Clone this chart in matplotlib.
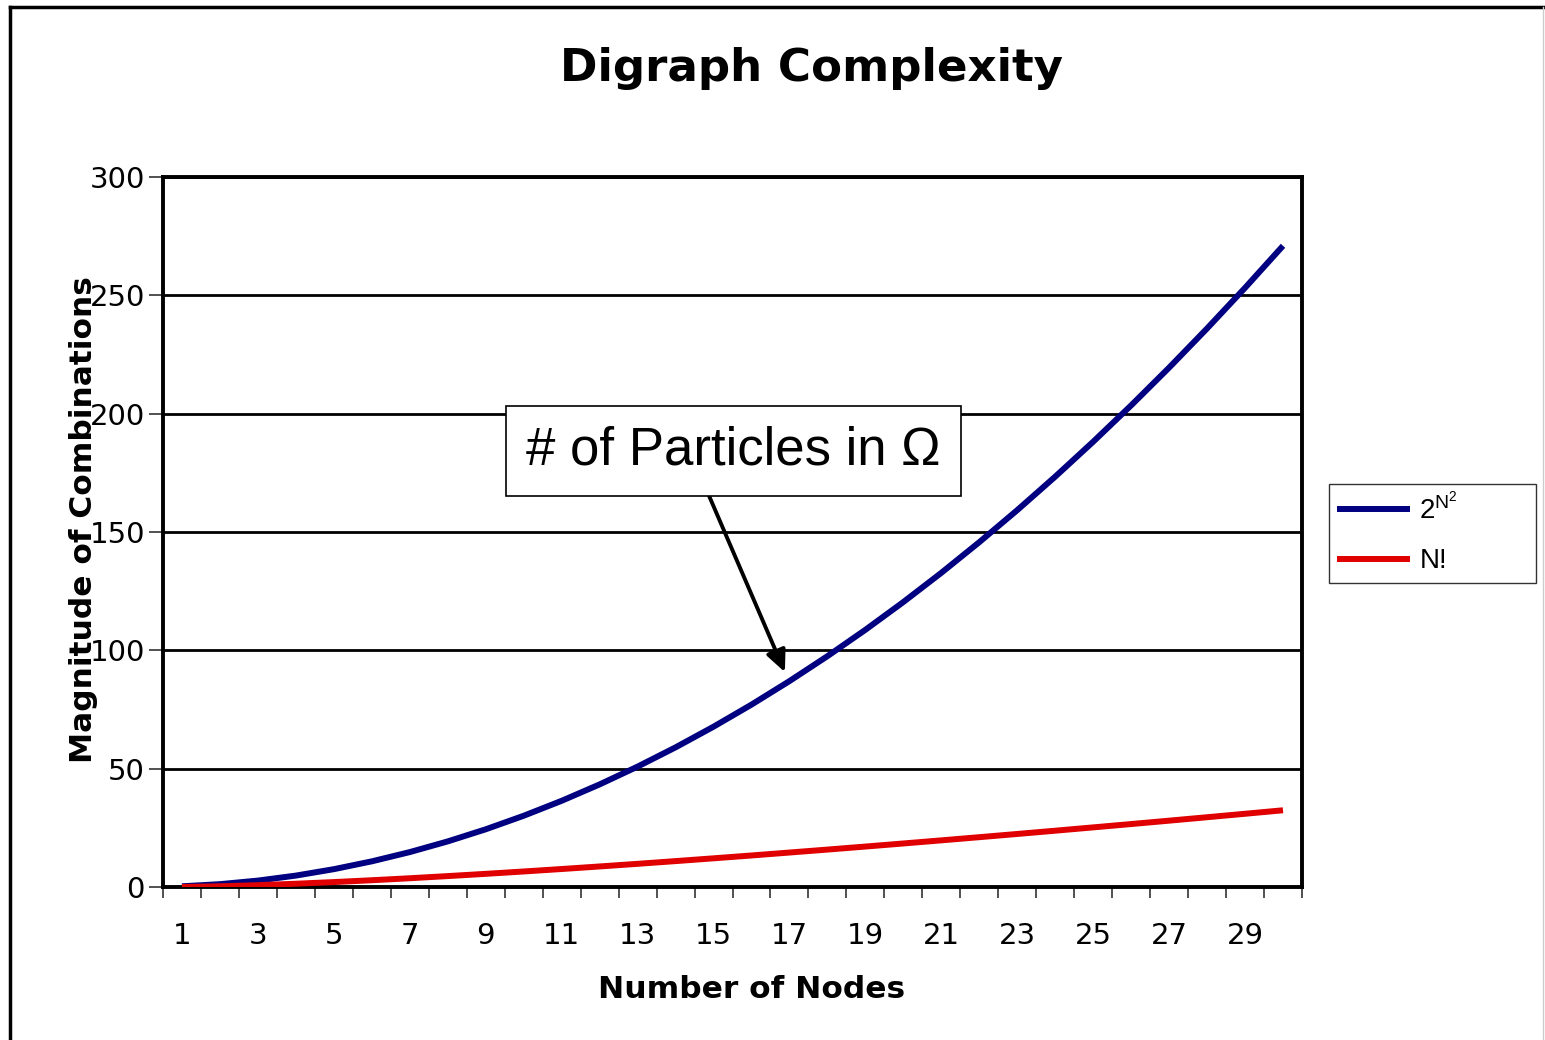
import matplotlib
matplotlib.use("Agg")
import matplotlib.pyplot as plt
from matplotlib.lines import Line2D

nodes = list(range(1, 31))
pow2_n2 = [0.30, 1.20, 2.71, 4.82, 7.53, 10.84, 14.75, 19.27, 24.38, 30.10,
           36.42, 43.35, 50.87, 59.00, 67.73, 77.06, 87.00, 97.53, 108.67, 120.41,
           132.75, 145.70, 159.24, 173.39, 188.14, 203.50, 219.45, 236.01, 253.17, 270.93]
n_fact = [0.00, 0.30, 0.78, 1.38, 2.08, 2.86, 3.70, 4.61, 5.56, 6.56,
          7.60, 8.68, 9.79, 10.94, 12.12, 13.32, 14.56, 15.81, 17.09, 18.39,
          19.71, 21.05, 22.41, 23.79, 25.19, 26.60, 28.03, 29.48, 30.94, 32.42]
y_ticks = [0, 50, 100, 150, 200, 250, 300]
x_labels = [str(n) for n in range(1, 31, 2)]
series_labels = [r"$\mathregular{2^{N^{2}}}$", "N!"]
colors = ["#000080", "#e00000"]

W, H = 1545, 1040
fig = plt.figure(figsize=(W / 100, H / 100), dpi=100)
fig.patch.set_facecolor("white")

# outer frame
fig.add_artist(Line2D([10 / W, 1.0], [1 - 7 / H, 1 - 7 / H], color="black", lw=2.5, transform=fig.transFigure))
fig.add_artist(Line2D([10 / W, 10 / W], [1 - 7 / H, 0], color="black", lw=2.5, transform=fig.transFigure))
fig.add_artist(Line2D([1543 / W, 1543 / W], [1 - 7 / H, 0], color="#cccccc", lw=1, transform=fig.transFigure))

left, right, top, bottom = 163 / W, 1302 / W, 1 - 177 / H, 1 - 887 / H
ax = fig.add_axes([left, bottom, right - left, top - bottom])

l1, = ax.plot(nodes, pow2_n2, color=colors[0], lw=4.3, solid_capstyle="butt", zorder=3)
l2, = ax.plot(nodes, n_fact, color=colors[1], lw=4.3, solid_capstyle="butt", zorder=3)

ax.set_xlim(0.5, 30.5)
ax.set_ylim(0, 300)
ax.set_yticks(y_ticks)
ax.yaxis.grid(True, color="black", lw=2.0)
ax.set_axisbelow(True)
for s in ax.spines.values():
    s.set_linewidth(2.8)

# x ticks: marks at category boundaries, labels at odd categories
ax.set_xticks([i + 0.5 for i in range(0, 31)])
ax.set_xticklabels([])
ax.tick_params(axis="x", which="major", length=8, width=1.2, direction="out", color="#333333")
ax.set_xticks(list(range(1, 31, 2)), minor=True)
ax.set_xticklabels(x_labels, minor=True)
ax.tick_params(axis="x", which="minor", length=0, pad=25, labelsize=21)
ax.tick_params(axis="y", length=10, width=1.2, pad=3, labelsize=21, color="#333333")

fig.text(812 / W, 1 - 68 / H, "Digraph Complexity", ha="center", va="center",
         fontsize=32.5, fontweight="bold")
fig.text(752 / W, 1 - 990 / H, "Number of Nodes", ha="center", va="center",
         fontsize=22.5, fontweight="bold")
fig.text(84 / W, 1 - 520 / H, "Magnitude of Combinations", ha="center", va="center",
         fontsize=22.5, fontweight="bold", rotation=90)

# annotation
ax.text(15.53, 184.4, "# of Particles in \u03a9", ha="center", va="center",
        fontsize=38, family="Liberation Sans", zorder=5,
        bbox=dict(boxstyle="square,pad=0.38", fc="white", ec="black", lw=1.2))
ax.annotate("", xy=(16.88, 90.8), xytext=(14.85, 166.5),
            arrowprops=dict(arrowstyle="-|>,head_length=1.3,head_width=0.6",
                            color="black", lw=2.8, shrinkA=0, shrinkB=0), zorder=4)

leg = fig.legend([l1, l2], series_labels, loc="upper left",
                 bbox_to_anchor=(1329 / W, 1 - 580 / H, 207 / W, 96 / H),
                 mode="expand",
                 frameon=True, fancybox=False, edgecolor="black",
                 prop={"family": "Liberation Sans", "size": 20},
                 handlelength=2.6, handletextpad=0.35, borderpad=0.3, labelspacing=0.85,
                 borderaxespad=0)
leg.get_frame().set_linewidth(1.0)

fig.savefig("out.png", dpi=100, facecolor="white")
